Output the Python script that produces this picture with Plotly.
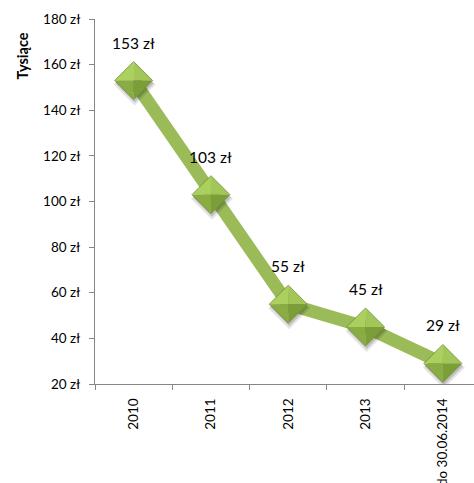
import plotly.graph_objects as go

# Values in thousands of złoty
categories = ["2010", "2011", "2012", "2013", "do 30.06.2014"]
values = [153, 103, 55, 45, 29]
labels = ["153 zł", "103 zł", "55 zł", "45 zł", "29 zł"]
y_ticks = [20, 40, 60, 80, 100, 120, 140, 160, 180]
y_tick_text = [f"{v} zł" for v in y_ticks]

FONT = "Lato, 'Open Sans', sans-serif"
LINE_GREEN = "#9bbb59"
AXIS_GREY = "#868686"

x_idx = list(range(len(categories)))
boundaries = [i - 0.5 for i in x_idx]

fig = go.Figure()
fig.add_trace(go.Scatter(
    x=x_idx, y=values, mode="lines",
    line=dict(color=LINE_GREEN, width=13),
    hoverinfo="skip", showlegend=False,
))

# Bevelled diamond markers built from pixel-sized facets anchored at each point
R = 19
def tri(a, b, c):
    return f"M{a[0]},{a[1]} L{b[0]},{b[1]} L{c[0]},{c[1]} Z"

C, T, Rt, B, L = (0, 0), (0, R), (R, 0), (0, -R), (-R, 0)
facets = [
    (tri(C, L, T), "#acd05f"),
    (tri(C, T, Rt), "#a2c657"),
    (tri(C, B, L), "#89ad42"),
    (tri(C, Rt, B), "#7c9e39"),
]
shapes = []
for xi, v in zip(x_idx, values):
    common = dict(type="path", xref="x", yref="y", xsizemode="pixel", ysizemode="pixel",
                  xanchor=xi, yanchor=v, layer="above")
    # soft drop shadow
    for off, rr, alpha in [(4, R + 2, 0.10), (3, R, 0.16)]:
        shapes.append(dict(common, path=f"M{1},{rr - off} L{rr + 1},{-off} L{1},{-rr - off} L{-rr + 1},{-off} Z",
                           fillcolor=f"rgba(0,0,0,{alpha})", line=dict(width=0)))
    for p, col in facets:
        shapes.append(dict(common, path=p, fillcolor=col, line=dict(width=0)))
    shapes.append(dict(common, path=f"M0,{R} L{R},0 L0,{-R} L{-R},0 Z",
                       fillcolor="rgba(0,0,0,0)", line=dict(color="#6f8f33", width=0.8)))

annotations = [
    dict(x=xi, y=v, xref="x", yref="y", text=t, showarrow=False, yshift=38,
         font=dict(family=FONT, size=15.5, color="#000000"))
    for xi, v, t in zip(x_idx, values, labels)
]
annotations.append(dict(
    x=-0.19, y=0.90, xref="paper", yref="paper", text="<b>Tysiące</b>", textangle=-90,
    showarrow=False, xanchor="center", yanchor="middle",
    font=dict(family=FONT, size=14.5, color="#000000"),
))

fig.update_layout(
    width=474, height=483,
    margin=dict(l=95, r=0, t=19, b=99),
    paper_bgcolor="white", plot_bgcolor="white",
    shapes=shapes, annotations=annotations,
    xaxis=dict(
        type="linear", range=[-0.5, 4.403],
        tickmode="array", tickvals=x_idx, ticktext=categories,
        showgrid=False, zeroline=False, showline=True, linecolor=AXIS_GREY, linewidth=1,
        ticks="", tickangle=-90, automargin=False,
        tickfont=dict(family=FONT, size=13.5, color="#000000"),
        ticklabelstandoff=8,
        minor=dict(tickmode="array", tickvals=boundaries, ticks="outside",
                   ticklen=5, tickcolor=AXIS_GREY, showgrid=False),
    ),
    yaxis=dict(
        range=[20, 180], tickmode="array", tickvals=y_ticks, ticktext=y_tick_text,
        showgrid=False, zeroline=False, showline=True, linecolor=AXIS_GREY, linewidth=1,
        ticks="outside", ticklen=5, tickcolor=AXIS_GREY, automargin=False,
        tickfont=dict(family=FONT, size=13.5, color="#000000"),
        ticklabelstandoff=6,
    ),
)

fig.write_html("out.html")
